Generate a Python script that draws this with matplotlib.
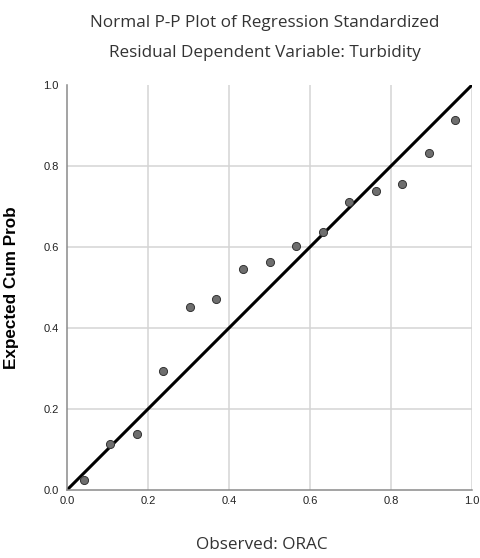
import matplotlib
matplotlib.use("Agg")
import matplotlib.pyplot as plt

observed = [0.041, 0.107, 0.172, 0.238, 0.303, 0.369, 0.434, 0.500, 0.566, 0.631, 0.697, 0.762, 0.828, 0.893, 0.959]
expected = [0.025, 0.113, 0.138, 0.293, 0.452, 0.471, 0.545, 0.562, 0.602, 0.637, 0.712, 0.738, 0.755, 0.831, 0.913]
ticks = [0.0, 0.2, 0.4, 0.6, 0.8, 1.0]
tick_labels = ["0.0", "0.2", "0.4", "0.6", "0.8", "1.0"]

fig = plt.figure(figsize=(4.8, 5.58), dpi=100)
ax = fig.add_axes([67/480, 1-490/558, 405/480, 405/558])
ax.set_xlim(0, 1)
ax.set_ylim(0, 1)

for t in ticks[1:]:
    ax.axvline(t, color="#d4d4d4", lw=1.1, zorder=0)
for t in ticks[1:-1]:
    ax.axhline(t, color="#d4d4d4", lw=1.1, zorder=0)

ax.plot([0, 1], [0, 1], color="black", lw=2.2, zorder=2, solid_capstyle="butt")
ax.scatter(observed, expected, s=34, facecolor="#6e6e6e", edgecolor="#333333", linewidths=0.7, zorder=3)

for s in ["top", "right"]:
    ax.spines[s].set_visible(False)
for s in ["left", "bottom"]:
    ax.spines[s].set_color("#8a8a8a")
    ax.spines[s].set_linewidth(1.1)

ax.set_xticks(ticks)
ax.set_yticks(ticks)
ax.set_xticklabels(tick_labels, fontsize=8, family="Liberation Sans", color="#222222")
ax.set_yticklabels(tick_labels, fontsize=8, family="Liberation Sans", color="#222222")
ax.tick_params(axis="y", length=0, pad=6)
ax.tick_params(axis="x", length=0, pad=4)

ax.set_ylabel("Expected Cum Prob", fontsize=12.3, fontweight="bold", family="Liberation Sans")
ax.yaxis.set_label_coords(-0.118, 0.5)

fig.text(265/480, 1-23/558, "Normal P-P Plot of Regression Standardized", ha="center", va="center",
         fontsize=12.3, family="Open Sans", color="#333333")
fig.text(265/480, 1-53/558, "Residual Dependent Variable: Turbidity", ha="center", va="center",
         fontsize=12.3, family="Open Sans", color="#333333")
fig.text(262/480, 1-545/558, "Observed: ORAC", ha="center", va="center",
         fontsize=12.3, family="Open Sans", color="#333333")

fig.savefig("out.png", dpi=100, facecolor="white")
